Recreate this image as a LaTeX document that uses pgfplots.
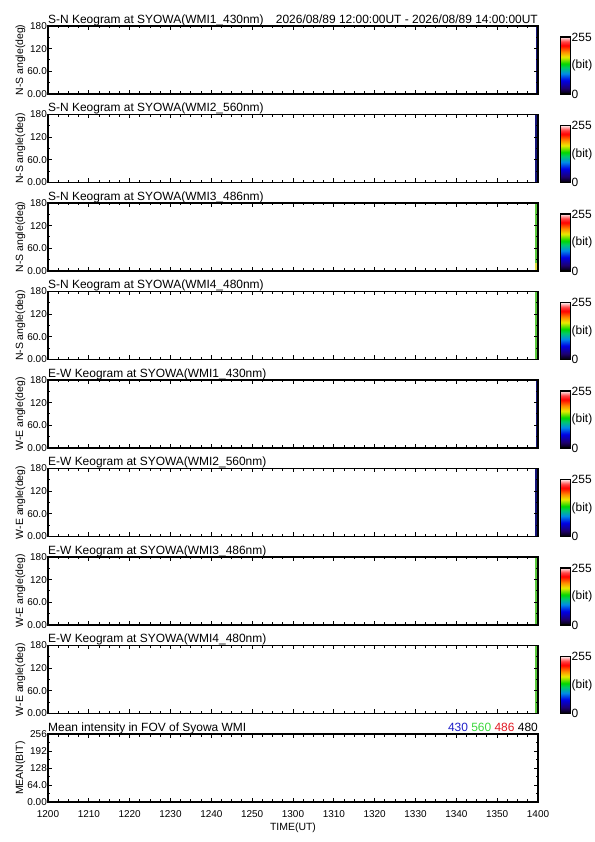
\documentclass[border=0pt]{standalone}
\usepackage{fontspec}
\setmainfont{Liberation Sans}
\usepackage{pgfplots}
\pgfplotsset{compat=1.18}
\definecolor{c430}{RGB}{30,30,200}
\definecolor{c560}{RGB}{60,215,60}
\definecolor{c486}{RGB}{225,25,35}
\definecolor{stripg}{RGB}{90,200,60}
\definecolor{stripb}{RGB}{20,20,120}
\definecolor{stripy}{RGB}{220,220,60}
\pgfplotsset{
  base/.style={
    scale only axis, width=490bp, height=68bp,
    anchor=south west,
    clip mode=individual,
    xmin=0, xmax=120,
    xtick={0,10,...,120}, minor x tick num=3,
    axis line style={line width=1.6bp},
    major tick length=4bp, minor tick length=2.5bp,
    every tick/.style={black, line width=1bp},
    tick align=inside,
    axis on top,
    /pgf/number format/assume math mode=true,
    yticklabel style={font=\fontsize{10}{10}\selectfont, inner sep=1bp},
    xticklabel style={font=\fontsize{10}{10}\selectfont, yshift=-5bp},
    ylabel style={font=\fontsize{10.5}{11}\selectfont, inner sep=1bp},
    xlabel style={font=\fontsize{10.5}{11}\selectfont, inner sep=1bp, yshift=-1bp},
    every axis title/.style={at={(0,1)}, anchor=base west, yshift=2.5bp, font=\fontsize{12}{12}\selectfont, inner sep=0bp},
  },
  keo/.style={
    base,
    ymin=0, ymax=180,
    xticklabels={},
    ytick={0,60,120,180}, yticklabels={0.00,60.0,120,180}, minor y tick num=1,
    colormap={idl}{rgb255(0cm)=(0,0,0) rgb255(10cm)=(30,0,110) rgb255(24cm)=(0,0,230) rgb255(36cm)=(0,140,230) rgb255(46cm)=(0,200,110) rgb255(53cm)=(0,215,0) rgb255(65cm)=(235,235,0) rgb255(74cm)=(255,140,0) rgb255(85cm)=(255,0,0) rgb255(92cm)=(255,70,70) rgb255(100cm)=(255,240,240)},
    point meta min=0, point meta max=255,
    colorbar,
    colorbar style={
      scale only axis,
      width=10bp, height=57bp,
      at={(parent axis.south east)}, anchor=south west, xshift=14bp,
      ytick={0,127.5,255}, yticklabels={0,(bit),255},
      major tick length=0pt, minor y tick num=0,
      axis line style={line width=1.3bp},
      yticklabel style={font=\fontsize{12}{12}\selectfont, inner sep=1bp},
      /pgf/number format/assume math mode=true,
    },
  },
}
\begin{document}
\begin{tikzpicture}
\useasboundingbox (0,0) rectangle (595bp,842bp);
% panel 1
\begin{axis}[keo, at={(48bp,748bp)}, title={S-N Keogram at SYOWA(WMI1\_430nm)}, ylabel={N-S angle(deg)}]
\addplot[fill=stripb, draw=none] coordinates {(119.6,180) (120,180)} \closedcycle;
\node[anchor=base east, inner sep=0bp, yshift=2.5bp, font=\fontsize{12}{12}\selectfont] at (rel axis cs:1,1) {2026/08/89 12:00:00UT - 2026/08/89 14:00:00UT};
\end{axis}
% panel 2
\begin{axis}[keo, at={(48bp,659.5bp)}, title={S-N Keogram at SYOWA(WMI2\_560nm)}, ylabel={N-S angle(deg)}]
\addplot[fill=stripb, draw=none] coordinates {(119.3,180) (120,180)} \closedcycle;
\end{axis}
% panel 3
\begin{axis}[keo, at={(48bp,571bp)}, title={S-N Keogram at SYOWA(WMI3\_486nm)}, ylabel={N-S angle(deg)}]
\addplot[fill=stripg, draw=none] coordinates {(119.3,180) (120,180)} \closedcycle;
\addplot[fill=stripy, draw=none] coordinates {(119.3,20) (120,20)} \closedcycle;
\end{axis}
% panel 4
\begin{axis}[keo, at={(48bp,482.5bp)}, title={S-N Keogram at SYOWA(WMI4\_480nm)}, ylabel={N-S angle(deg)}]
\addplot[fill=stripg, draw=none] coordinates {(119.3,180) (120,180)} \closedcycle;
\end{axis}
% panel 5
\begin{axis}[keo, at={(48bp,394bp)}, title={E-W Keogram at SYOWA(WMI1\_430nm)}, ylabel={W-E angle(deg)}]
\addplot[fill=stripb, draw=none] coordinates {(119.5,180) (120,180)} \closedcycle;
\end{axis}
% panel 6
\begin{axis}[keo, at={(48bp,305.5bp)}, title={E-W Keogram at SYOWA(WMI2\_560nm)}, ylabel={W-E angle(deg)}]
\addplot[fill=stripb, draw=none] coordinates {(119.3,180) (120,180)} \closedcycle;
\end{axis}
% panel 7
\begin{axis}[keo, at={(48bp,217bp)}, title={E-W Keogram at SYOWA(WMI3\_486nm)}, ylabel={W-E angle(deg)}]
\addplot[fill=stripg, draw=none] coordinates {(119.3,180) (120,180)} \closedcycle;
\end{axis}
% panel 8
\begin{axis}[keo, at={(48bp,128.5bp)}, title={E-W Keogram at SYOWA(WMI4\_480nm)}, ylabel={W-E angle(deg)}]
\addplot[fill=stripg, draw=none] coordinates {(119.3,180) (120,180)} \closedcycle;
\end{axis}
% panel 9
\begin{axis}[base, at={(48bp,40bp)}, title={Mean intensity in FOV of Syowa WMI}, ylabel={MEAN(BIT)}, xlabel={TIME(UT)},
  ymin=0, ymax=256, ytick={0,64,128,192,256}, yticklabels={0.00,64.0,128,192,256}, minor y tick num=1,
  xticklabels={1200,1210,1220,1230,1240,1250,1300,1310,1320,1330,1340,1350,1400}]
\node[anchor=base east, inner sep=0bp, yshift=2.5bp, font=\fontsize{12}{12}\selectfont] at (rel axis cs:1,1) {\textcolor{c430}{430} \textcolor{c560}{560} \textcolor{c486}{486} 480};
\end{axis}
\end{tikzpicture}
\end{document}
